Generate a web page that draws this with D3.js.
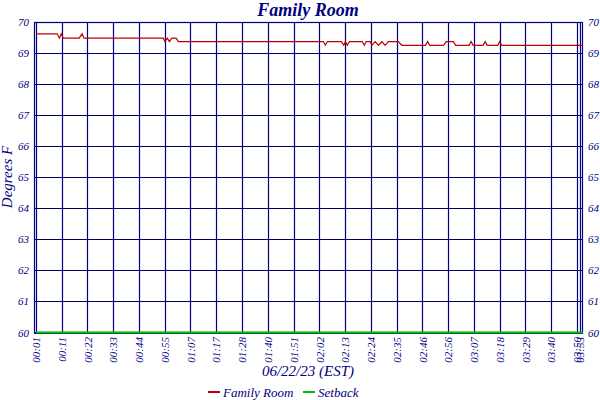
<!DOCTYPE html>
<html>
<head>
<meta charset="utf-8">
<script src="https://cdn.jsdelivr.net/npm/d3@7"></script>
<style>
  body { margin: 0; background: #fff; }
  svg text { font-family: "Liberation Serif", "DejaVu Serif", serif; font-style: italic; fill: #000080; }
</style>
</head>
<body>
<div id="chart"></div>
<script>
// Family Room temperature log, 06/22/23 (times in minutes after midnight)
const TITLE = "Family Room";
const X_TITLE = "06/22/23 (EST)";
const Y_TITLE = "Degrees F";

// red series vertices
const roomTimes = [1, 10.0, 10.9, 11.7, 12.6, 19.3, 20.5, 21.3, 54.9, 55.6, 56.6, 57.5, 58.5, 60.3, 61.3,
  122.7, 123.5, 124.4, 130.3, 131.3, 132.0, 132.8, 133.7, 139.1, 140.0, 140.8, 142.5, 143.2, 144.6,
  146.0, 147.5, 148.8, 150.2, 154.4, 155.9, 165.9, 166.8, 167.7, 173.5, 174.7, 177.7, 178.7,
  184.4, 185.2, 186.1, 190.3, 191.2, 192.0, 196.5, 197.3, 198.2, 232.5];
const roomTemps = [69.62, 69.62, 69.48, 69.62, 69.48, 69.48, 69.62, 69.48, 69.48, 69.37, 69.48, 69.37, 69.48, 69.48, 69.37,
  69.37, 69.25, 69.37, 69.37, 69.25, 69.37, 69.25, 69.37, 69.37, 69.25, 69.37, 69.37, 69.25, 69.37,
  69.25, 69.37, 69.25, 69.37, 69.37, 69.25, 69.25, 69.37, 69.25, 69.25, 69.37, 69.37, 69.25,
  69.25, 69.37, 69.25, 69.25, 69.37, 69.25, 69.25, 69.37, 69.25, 69.25];

// setback series
const setbackTimes = [1, 232.5];
const setbackTemps = [60, 60];

// x ticks (position in minutes, label)
const tickMinutes = [1, 11.9, 22.8, 33.7, 44.6, 55.5, 66.4, 77.3, 88.2, 99.1, 110.1, 121.0, 131.9,
  142.8, 153.7, 164.6, 175.5, 186.4, 197.3, 208.2, 219.1, 230.0, 231.4];
const tickLabels = ["00:01", "00:11", "00:22", "00:33", "00:44", "00:55", "01:07", "01:17", "01:28",
  "01:40", "01:51", "02:02", "02:13", "02:24", "02:35", "02:46", "02:56", "03:07", "03:18", "03:29",
  "03:40", "03:50", "03:53"];
const yTicks = [60, 61, 62, 63, 64, 65, 66, 67, 68, 69, 70];

const seriesNames = ["Family Room", "Setback"];
const seriesColors = ["#c00000", "#00c000"];

const WIDTH = 600, HEIGHT = 400;
const M = { left: 34, right: 17, top: 22, bottom: 68 };
const NAVY = "#000080";

const svg = d3.select("#chart").append("svg")
  .attr("width", WIDTH).attr("height", HEIGHT);

const x = d3.scaleLinear().domain([0.15, 232.6]).range([M.left, WIDTH - M.right]);
const y = d3.scaleLinear().domain([60, 70]).range([HEIGHT - M.bottom + 0.5, M.top]);

// grid
svg.append("g")
  .selectAll("line.h").data(yTicks).join("line")
  .attr("x1", M.left).attr("x2", WIDTH - M.right)
  .attr("y1", d => Math.round(y(d)) + 0.5).attr("y2", d => Math.round(y(d)) + 0.5)
  .attr("stroke", "#000060").attr("stroke-width", 1.2);

svg.append("g")
  .selectAll("line.v").data(tickMinutes).join("line")
  .attr("x1", d => Math.round(x(d)) + 0.5).attr("x2", d => Math.round(x(d)) + 0.5)
  .attr("y1", M.top).attr("y2", HEIGHT - M.bottom)
  .attr("stroke", NAVY).attr("stroke-width", 1.2);

// frame
svg.append("rect")
  .attr("x", M.left + 0.5).attr("y", M.top + 0.5)
  .attr("width", WIDTH - M.left - M.right - 1).attr("height", HEIGHT - M.top - M.bottom)
  .attr("fill", "none").attr("stroke", NAVY).attr("stroke-width", 1.2);

// axes (labels only, grid drawn above)
const yLeft = svg.append("g").attr("transform", `translate(${M.left - 3},0)`)
  .call(d3.axisLeft(y).tickValues(yTicks).tickSize(0).tickPadding(2));
const yRight = svg.append("g").attr("transform", `translate(${WIDTH - M.right + 3},0)`)
  .call(d3.axisRight(y).tickValues(yTicks).tickSize(0).tickPadding(2));
[yLeft, yRight].forEach(g => {
  g.select(".domain").remove();
  g.selectAll("text").style("font-size", "11px").attr("fill", NAVY);
});

const xAxis = svg.append("g").attr("transform", `translate(0,${HEIGHT - M.bottom + 3})`)
  .call(d3.axisBottom(x).tickValues(tickMinutes).tickFormat((d, i) => tickLabels[i]).tickSize(0));
xAxis.select(".domain").remove();
xAxis.selectAll("text")
  .style("font-size", "11px").attr("fill", NAVY)
  .attr("text-anchor", "end")
  .attr("transform", "rotate(-90)")
  .attr("x", 0).attr("y", 0).attr("dx", "-2").attr("dy", "0.33em");

// lines
const line = d3.line().x(d => x(d[0])).y(d => y(d[1]));
const roomData = roomTimes.map((t, i) => [t, roomTemps[i]]);
const setbackData = setbackTimes.map((t, i) => [t, setbackTemps[i]]);

svg.append("path").datum(setbackData)
  .attr("d", line).attr("fill", "none")
  .attr("stroke", seriesColors[1]).attr("stroke-width", 2);
svg.append("path").datum(roomData)
  .attr("d", line).attr("fill", "none")
  .attr("stroke", seriesColors[0]).attr("stroke-width", 1.2);

// titles
svg.append("text").attr("x", 308).attr("y", 16)
  .attr("text-anchor", "middle").style("font-size", "18px").style("font-weight", "bold")
  .text(TITLE);
svg.append("text").attr("x", 308).attr("y", 376)
  .attr("text-anchor", "middle").style("font-size", "15px")
  .text(X_TITLE);
svg.append("text").attr("transform", "translate(12,177) rotate(-90)")
  .attr("text-anchor", "middle").style("font-size", "15px")
  .text(Y_TITLE);

// legend
const legendX = [208, 303];
const lg = svg.append("g").selectAll("g").data(seriesNames).join("g")
  .attr("transform", (d, i) => `translate(${legendX[i]},392)`);
lg.append("line").attr("x1", 0).attr("x2", 12)
  .attr("stroke", (d, i) => seriesColors[i]).attr("stroke-width", 2);
lg.append("text").attr("x", 15).attr("dy", "0.35em")
  .style("font-size", "13px").text(d => d);
</script>
</body>
</html>
